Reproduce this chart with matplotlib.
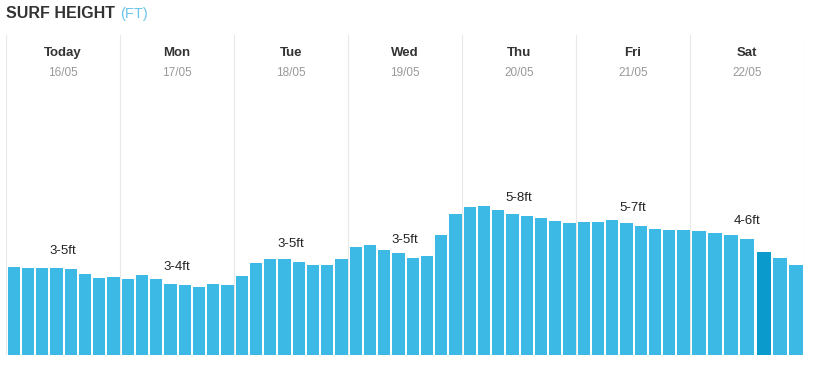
import matplotlib
matplotlib.use("Agg")
import matplotlib.pyplot as plt

plt.rcParams['font.family'] = ['Liberation Sans', 'DejaVu Sans']

days = ["Today", "Mon", "Tue", "Wed", "Thu", "Fri", "Sat"]
dates = ["16/05", "17/05", "18/05", "19/05", "20/05", "21/05", "22/05"]
ranges = ["3-5ft", "3-4ft", "3-5ft", "3-5ft", "5-8ft", "5-7ft", "4-6ft"]

today = [88, 87, 87, 87, 86, 81, 77, 78]
mon = [76, 80, 76, 71, 70, 68, 71, 70]
tue = [79, 92, 96, 96, 93, 90, 90, 96]
wed = [108, 110, 105, 102, 97, 99, 120, 141]
thu = [148, 149, 145, 141, 139, 137, 134, 132]
fri = [133, 133, 135, 132, 129, 126, 125, 125]
sat = [124, 122, 120, 116, 103, 97, 90]
series = [today, mon, tue, wed, thu, fri, sat]
highlight = (6, 4)

W, H = 817, 369
fig = plt.figure(figsize=(W / 100, H / 100), dpi=100)
fig.patch.set_facecolor("white")

x0, x1 = 6, 804
ytop, ybase = 35, 355
ax = fig.add_axes([x0 / W, (H - ybase) / H, (x1 - x0) / W, (ybase - ytop) / H])
ax.set_xlim(0, 7)
ax.set_ylim(0, ybase - ytop)
ax.axis("off")

bar_col = "#3db9e6"
hl_col = "#0a9bcc"
for d, vals in enumerate(series):
    n = len(vals)
    lefts = [d + j / n + 0.014 for j in range(n)]
    cols = [hl_col if (d, j) == highlight else bar_col for j in range(n)]
    ax.bar(lefts, vals, width=0.86 / n, align="edge", color=cols, linewidth=0, zorder=2)
    mid = vals[n // 2]
    ax.annotate(ranges[d], (d + 0.5, mid), xytext=(0, 13), textcoords="offset points",
                ha="center", va="center", fontsize=9.5, color="#222222", zorder=3)
    ax.text(d + 0.5, ybase - 53, days[d], ha="center", va="center",
            fontsize=9.5, fontweight="bold", color="#333333")
    ax.text(d + 0.5, ybase - 73, dates[d], ha="center", va="center",
            fontsize=8.5, color="#999999")

for d in range(8):
    ax.axvline(d, color="#e8e8e8", linewidth=0.8, zorder=1)

t = fig.text(6 / W, 1 - 14 / H, "SURF HEIGHT", ha="left", va="center",
             fontsize=11.5, fontweight="bold", color="#333333")
fig.canvas.draw()
bb = t.get_window_extent()
fig.text((bb.x1 + 5) / W, 1 - 14 / H, "(FT)", ha="left", va="center",
         fontsize=10.5, color="#6cc4ea")

fig.savefig("out.png", dpi=100, facecolor="white")
